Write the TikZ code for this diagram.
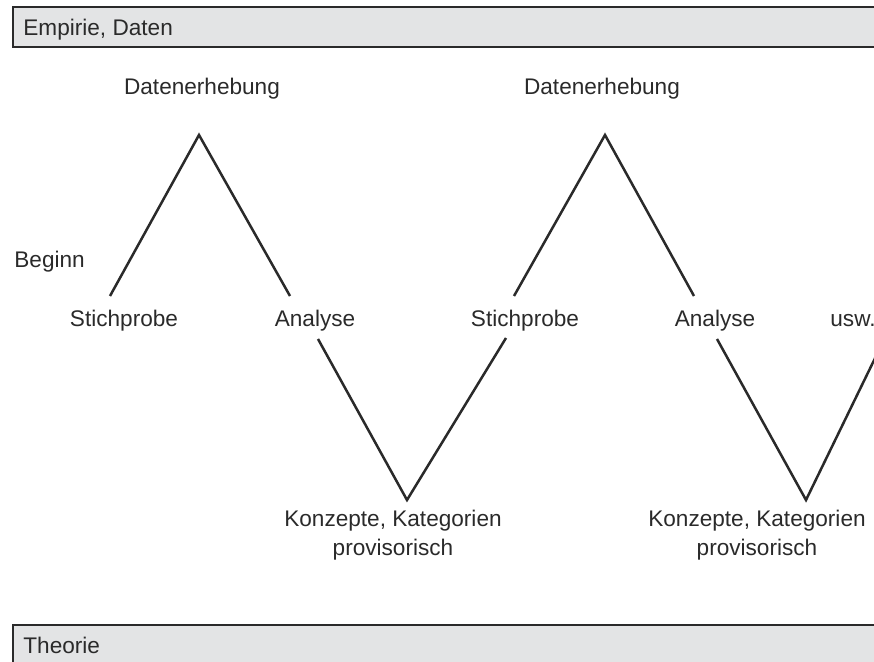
\documentclass[tikz,border=0pt]{standalone}
\usepackage{fontspec}
\setmainfont{Liberation Sans}
\usetikzlibrary{positioning}
\definecolor{barfill}{HTML}{E3E4E5}
\definecolor{ink}{HTML}{2A2A2A}
\tikzset{
  lbl/.style={text=ink, font=\fontsize{11.3}{14.5}\selectfont, inner sep=0pt},
  zig/.style={draw=ink, line width=1.25pt},
  barline/.style={draw=ink, line width=1.1pt},
}
\begin{document}
\begin{tikzpicture}[x=0.5pt,y=-0.5pt]
  \useasboundingbox (0,0) rectangle (874,662);
  \clip (0,0) rectangle (874,662);
  \fill[barfill] (13,7) rectangle (880,47);
  \draw[barline] (880,7) -- (13,7) -- (13,47) -- (880,47);
  \fill[barfill] (13,625) rectangle (880,670);
  \draw[barline] (880,625) -- (13,625) -- (13,670);
  \node[lbl, anchor=base west] (empirie) at (23,36) {Empirie, Daten};
  \node[lbl, anchor=base west] (theorie) at (23,654) {Theorie};

  \node[lbl, anchor=base] (erhebA) at (202,95) {Datenerhebung};
  \node[lbl, anchor=base] (erhebB) at (602,95) {Datenerhebung};
  \node[lbl, anchor=base west] (beginn) at (14,268) {Beginn};
  \node[lbl, anchor=base] (stichA) at (124,327) {Stichprobe};
  \node[lbl, anchor=base] (analyseA) at (315,327) {Analyse};
  \node[lbl, anchor=base] (stichB) at (525,327) {Stichprobe};
  \node[lbl, anchor=base] (analyseB) at (715,327) {Analyse};
  \node[lbl, anchor=base west] (usw) at (830,327) {usw.};
  \node[lbl, anchor=base, align=center] (konzA) at (393,556) {Konzepte, Kategorien\\provisorisch};
  \node[lbl, anchor=base, align=center] (konzB) at (757,556) {Konzepte, Kategorien\\provisorisch};

  \coordinate (a1) at (110,296);
  \coordinate (p1) at (199,135);
  \coordinate (b1) at (290,296);
  \coordinate (c1) at (318,339);
  \coordinate (t1) at (407,500);
  \coordinate (d1) at (506,338);
  \coordinate (a2) at (514,296);
  \coordinate (p2) at (605,135);
  \coordinate (b2) at (694,296);
  \coordinate (c2) at (717,339);
  \coordinate (t2) at (806,500);
  \coordinate (d2) at (880,348);
  \draw[zig] (a1) -- (p1) -- (b1);
  \draw[zig] (c1) -- (t1) -- (d1);
  \draw[zig] (a2) -- (p2) -- (b2);
  \draw[zig] (c2) -- (t2) -- (d2);
\end{tikzpicture}
\end{document}
